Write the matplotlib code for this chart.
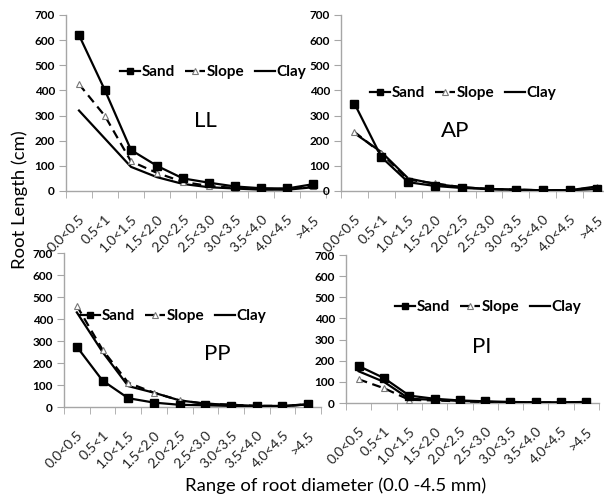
import numpy as np
import matplotlib
matplotlib.use("Agg")
import matplotlib.pyplot as plt

plt.rcParams['font.family'] = ['Lato', 'DejaVu Sans']

# root diameter classes (mm)
classes = ["0.0<0.5", "0.5<1", "1.0<1.5", "1.5<2.0", "2.0<2.5",
           "2.5<3.0", "3.0<3.5", "3.5<4.0", "4.0<4.5", ">4.5"]
y_ticks = [0, 100, 200, 300, 400, 500, 600, 700]

# root length (cm) per species and site
ll_sand = [620, 400, 163, 100, 50, 33, 18, 11, 10, 27]
ll_slope = [425, 298, 118, 72, 36, 20, 12, 8, 8, 20]
ll_clay = [320, 208, 96, 55, 28, 15, 10, 5, 5, 15]

ap_sand = [348, 135, 35, 20, 12, 8, 5, 3, 3, 8]
ap_slope = [235, 150, 45, 30, 15, 8, 5, 3, 3, 15]
ap_clay = [230, 155, 50, 28, 15, 8, 5, 3, 3, 18]

pp_sand = [274, 120, 40, 20, 10, 8, 5, 3, 3, 12]
pp_slope = [460, 260, 110, 65, 30, 15, 10, 5, 5, 12]
pp_clay = [430, 250, 95, 65, 30, 15, 10, 5, 5, 12]

pi_sand = [175, 118, 35, 20, 12, 8, 5, 3, 3, 5]
pi_slope = [112, 70, 15, 12, 8, 5, 3, 2, 2, 5]
pi_clay = [150, 100, 20, 15, 10, 5, 3, 2, 2, 5]

# name, data, axes box in pixels (left, bottom, width, height), legend anchor, label position
panels = [
    ("LL", ll_sand, ll_slope, ll_clay, [66, 191, 260, 176], (0.208, 0.676), (0.535, 0.40)),
    ("AP", ap_sand, ap_slope, ap_clay, [341, 191, 269, 176], (0.108, 0.557), (0.424, 0.34)),
    ("PP", pp_sand, pp_slope, pp_clay, [64, 407, 257, 154], (0.062, 0.591), (0.595, 0.344)),
    ("PI", pi_sand, pi_slope, pi_clay, [346, 403, 253, 148], (0.194, 0.649), (0.537, 0.378)),
]

W, H = 604, 496
fig = plt.figure(figsize=(W / 100, H / 100), dpi=100)
axis_grey = "#a6a6a6"

for name, sand, slope, clay, box, leg_pos, lab_pos in panels:
    left, bottom, width, height = box
    ax = fig.add_axes([left / W, 1 - bottom / H, width / W, height / H])
    ax.patch.set_alpha(0)
    x = np.arange(len(classes))

    ax.plot(x, sand, color="black", lw=1.6, marker="s", ms=5.5, label="Sand", zorder=4)
    ax.plot(x, slope, color="black", lw=1.6, ls=(0, (4, 2.5)), marker="^", ms=5,
            mfc="white", mec="#777777", mew=0.8, label="Slope", zorder=3)
    ax.plot(x, clay, color="black", lw=1.6, label="Clay", zorder=2)

    ax.set_xlim(-0.5, len(classes) - 0.5)
    ax.set_ylim(0, 700)
    ax.set_yticks(y_ticks)
    ax.set_yticklabels([str(v) for v in y_ticks], fontsize=8.5, fontweight="bold")
    ax.set_xticks(x)
    ax.set_xticklabels(classes, rotation=45, ha="right", rotation_mode="anchor",
                       fontsize=10, color="#222222")
    ax.set_xticks(np.arange(-0.5, len(classes), 1.0), minor=True)
    ax.tick_params(axis="x", which="major", length=0, pad=16)
    ax.tick_params(axis="x", which="minor", length=5, color=axis_grey, direction="out")
    ax.tick_params(axis="y", length=5, color=axis_grey, direction="out", pad=3)

    for side in ["top", "right"]:
        ax.spines[side].set_visible(False)
    for side in ["left", "bottom"]:
        ax.spines[side].set_color(axis_grey)
        ax.spines[side].set_linewidth(1.0)

    leg = ax.legend(loc="center left", bbox_to_anchor=leg_pos, ncol=3, frameon=False,
                    handlelength=1.3, handletextpad=0.1, columnspacing=0.7,
                    borderaxespad=0, borderpad=0,
                    prop={"size": 11, "weight": "bold"})
    for line in leg.get_lines():
        line.set_markersize(4.5)

    ax.text(lab_pos[0], lab_pos[1], name, transform=ax.transAxes, fontsize=16,
            ha="center", va="center")

fig.text(0.033, 0.597, "Root Length (cm)", rotation=90, ha="center", va="center",
         fontsize=13.3)
fig.text(0.555, 0.010, "Range of root diameter (0.0 -4.5 mm)", ha="center",
         va="baseline", fontsize=13.3)

fig.savefig("out.png", dpi=100)
